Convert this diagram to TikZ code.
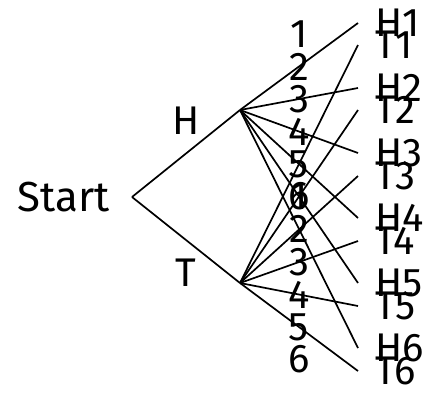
\documentclass[tikz,border=0pt]{standalone}
\usepackage{fontspec}
\setmainfont{Fira Sans}
\usepackage{tikz}
\usetikzlibrary{positioning}
\definecolor{ctInk}{HTML}{000000}
\tikzset{
  ctedge/.style={draw=ctInk, line width=1.7pt},
  ctleaf/.style={anchor=west, inner xsep=17pt, inner ysep=0pt, text=ctInk},
  ctup/.style={midway, yshift=32.5pt, inner sep=0pt, text=ctInk},
  ctdown/.style={midway, yshift=-32.5pt, inner sep=0pt, text=ctInk}
}

\begin{document}
\begin{tikzpicture}[x=1pt, y=-1pt, font=\fontsize{40}{48}\selectfont]
  \useasboundingbox (0,0) rectangle (430,392);

  \node[anchor=east, inner xsep=22pt, inner ysep=0pt, font=\fontsize{42}{50}\selectfont] (start) at (132,197) {Start};
  \coordinate (head) at (240,110);
  \coordinate (tail) at (240,283);

  \node[ctleaf] (h1) at (358,23) {H1};
  \node[ctleaf] (h2) at (358,88) {H2};
  \node[ctleaf] (h3) at (358,153) {H3};
  \node[ctleaf] (h4) at (358,218) {H4};
  \node[ctleaf] (h5) at (358,283) {H5};
  \node[ctleaf] (h6) at (358,348) {H6};

  \node[ctleaf] (t1) at (358,45) {T1};
  \node[ctleaf] (t2) at (358,110) {T2};
  \node[ctleaf] (t3) at (358,176) {T3};
  \node[ctleaf] (t4) at (358,241) {T4};
  \node[ctleaf] (t5) at (358,306) {T5};
  \node[ctleaf] (t6) at (358,371) {T6};

  \draw[ctedge] (start.east) -- node[ctup] {H} (head);
  \draw[ctedge] (start.east) -- node[ctdown] {T} (tail);

  \draw[ctedge] (head) -- node[ctup] {1} (h1.west);
  \draw[ctedge] (head) -- node[ctup] {2} (h2.west);
  \draw[ctedge] (head) -- node[ctup] {3} (h3.west);
  \draw[ctedge] (head) -- node[ctup] {4} (h4.west);
  \draw[ctedge] (head) -- node[ctup] {5} (h5.west);
  \draw[ctedge] (head) -- node[ctup] {6} (h6.west);

  \draw[ctedge] (tail) -- node[ctdown] {1} (t1.west);
  \draw[ctedge] (tail) -- node[ctdown] {2} (t2.west);
  \draw[ctedge] (tail) -- node[ctdown] {3} (t3.west);
  \draw[ctedge] (tail) -- node[ctdown] {4} (t4.west);
  \draw[ctedge] (tail) -- node[ctdown] {5} (t5.west);
  \draw[ctedge] (tail) -- node[ctdown] {6} (t6.west);
\end{tikzpicture}
\end{document}
